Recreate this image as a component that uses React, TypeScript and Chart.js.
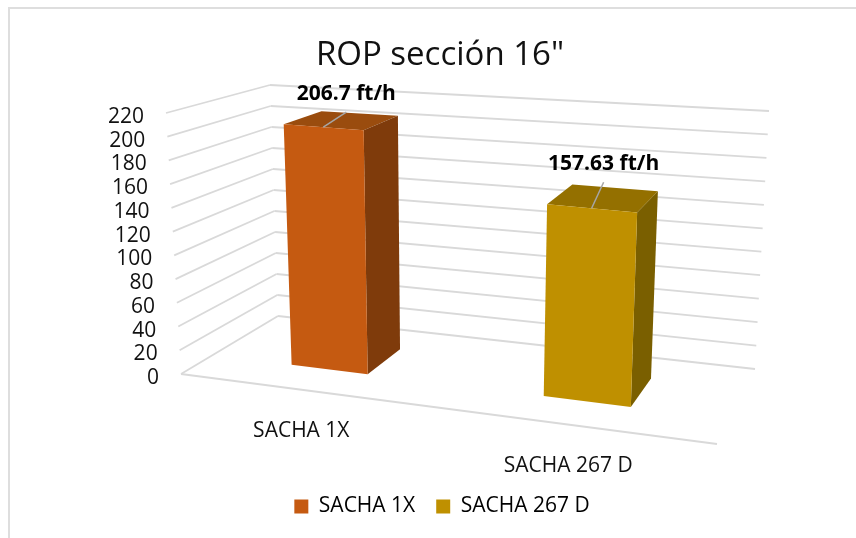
import React, { useEffect, useRef } from "react";
import { Chart, registerables } from "chart.js";

Chart.register(...registerables);

const titleText = 'ROP sección 16"';
const categories = ["SACHA 1X", "SACHA 267 D"];
const ropValues = [206.7, 157.63];
const valueLabels = ["206.7 ft/h", "157.63 ft/h"];
const faceColors = ["#C55A11", "#BF9000"];
const topColors = ["#9A4C0E", "#947000"];
const sideColors = ["#7F3B0B", "#7A5F00"];

const FONT = '"Open Sans", sans-serif';
const GRID = "#d9d9d9";
const INK = "#111111";

type P = [number, number];

// Floor of the 3D box on screen: front-left, front-right, back-right, back-left
const FLOOR: P[] = [[181, 374], [717, 444], [755, 369], [278, 316]];
// Full-height vector standing on each of those corners
const RISE: P[] = [[-15, -261], [13, -283], [14, -258], [-8, -231]];
const DEPTH_FRONT = 0.3;
const DEPTH_BACK = 0.7;
const LEADERS: P[] = [[23, -15], [12, -26]];
const LABEL_GAP = 18;
const LEGEND_SHIFT = 2;

function homography(q: P[]) {
  const [p0, p1, p2, p3] = q;
  const dx1 = p1[0] - p2[0], dx2 = p3[0] - p2[0], sx = p0[0] - p1[0] + p2[0] - p3[0];
  const dy1 = p1[1] - p2[1], dy2 = p3[1] - p2[1], sy = p0[1] - p1[1] + p2[1] - p3[1];
  const det = dx1 * dy2 - dx2 * dy1;
  const g = (sx * dy2 - dx2 * sy) / det;
  const h = (dx1 * sy - sx * dy1) / det;
  const a = p1[0] - p0[0] + g * p1[0], b = p3[0] - p0[0] + h * p3[0];
  const d = p1[1] - p0[1] + g * p1[1], e = p3[1] - p0[1] + h * p3[1];
  return (u: number, v: number): P => {
    const z = g * u + h * v + 1;
    return [(a * u + b * v + p0[0]) / z, (d * u + e * v + p0[1]) / z];
  };
}
const floorH = homography(FLOOR);
function project(u: number, v: number, w: number): P {
  const f = floorH(u, v);
  const rise = [0, 1].map(
    (k) =>
      (RISE[0][k] * (1 - u) + RISE[1][k] * u) * (1 - v) +
      (RISE[3][k] * (1 - u) + RISE[2][k] * u) * v
  );
  return [f[0] + rise[0] * w, f[1] + rise[1] * w];
}

function poly(ctx: CanvasRenderingContext2D, pts: P[], fill: string) {
  ctx.beginPath();
  pts.forEach((p, i) => (i ? ctx.lineTo(p[0], p[1]) : ctx.moveTo(p[0], p[1])));
  ctx.closePath();
  ctx.fillStyle = fill;
  ctx.fill();
}
function line(ctx: CanvasRenderingContext2D, a: P, b: P, color: string, width: number) {
  ctx.beginPath();
  ctx.moveTo(a[0], a[1]);
  ctx.lineTo(b[0], b[1]);
  ctx.strokeStyle = color;
  ctx.lineWidth = width;
  ctx.stroke();
}

const perspective = {
  id: "perspective",
  afterLayout(chart: any) {
    chart.legend.left += LEGEND_SHIFT;
    chart.legend.right += LEGEND_SHIFT;
  },
  beforeDatasetsDraw(chart: any) {
    const { ctx, scales } = chart;
    const yScale = scales.y;
    const h = yScale.bottom - yScale.top;
    ctx.save();
    // chart frame
    line(ctx, [9, 8], [9, 538], "#dedede", 2);
    line(ctx, [8, 8], [880, 8], "#dedede", 2);
    // walls
    yScale.ticks.forEach((t: any) => {
      const w = (yScale.bottom - yScale.getPixelForValue(t.value)) / h;
      line(ctx, project(0, 0, w), project(0, 1, w), GRID, 1.8);
      line(ctx, project(0, 1, w), project(1, 1, w), GRID, 1.8);
      const edge = project(0, 0, w);
      ctx.font = `21px ${FONT}`;
      ctx.fillStyle = INK;
      ctx.textAlign = "right";
      ctx.textBaseline = "middle";
      ctx.fillText(String(t.value), edge[0] - 22, edge[1] + 4);
    });
    line(ctx, project(0, 0, 0), project(1, 0, 0), GRID, 1.8);
    // category labels
    const xScale = scales.x;
    categories.forEach((c, i) => {
      const u = (xScale.getPixelForValue(i) - xScale.left) / (xScale.right - xScale.left);
      const p = project(u, 0, 0);
      ctx.font = `21px ${FONT}`;
      ctx.fillStyle = INK;
      ctx.textAlign = "center";
      ctx.textBaseline = "middle";
      ctx.fillText(c, p[0], p[1] + 41);
    });
    ctx.restore();
  },
  beforeDatasetDraw(chart: any) {
    const { ctx, scales } = chart;
    const xScale = scales.x, yScale = scales.y;
    const meta = chart.getDatasetMeta(0);
    ctx.save();
    meta.data.forEach((el: any, i: number) => {
      const span = xScale.right - xScale.left;
      const u0 = (el.x - el.width / 2 - xScale.left) / span;
      const u1 = (el.x + el.width / 2 - xScale.left) / span;
      const w = (yScale.bottom - el.y) / (yScale.bottom - yScale.top);
      const v0 = DEPTH_FRONT, v1 = DEPTH_BACK;
      poly(ctx, [project(u0, v0, w), project(u1, v0, w), project(u1, v1, w), project(u0, v1, w)], topColors[i]);
      poly(ctx, [project(u1, v0, 0), project(u1, v1, 0), project(u1, v1, w), project(u1, v0, w)], sideColors[i]);
      poly(ctx, [project(u0, v0, 0), project(u1, v0, 0), project(u1, v0, w), project(u0, v0, w)], faceColors[i]);
      // data label with its leader line
      const a = project((u0 + u1) / 2, v0, w);
      const b: P = [a[0] + LEADERS[i][0], a[1] + LEADERS[i][1]];
      line(ctx, a, b, "#a6a6a6", 1.5);
      ctx.font = `bold 21px ${FONT}`;
      ctx.fillStyle = "#000";
      ctx.textAlign = "center";
      ctx.textBaseline = "middle";
      ctx.fillText(valueLabels[i], b[0], b[1] - LABEL_GAP);
    });
    ctx.restore();
    return false;
  },
};

export default function App() {
  const ref = useRef<HTMLCanvasElement>(null);
  useEffect(() => {
    const chart = new Chart(ref.current!, {
      type: "bar",
      data: {
        labels: categories,
        datasets: [
          {
            label: "ROP",
            data: ropValues,
            backgroundColor: faceColors,
            barPercentage: 0.316,
            categoryPercentage: 1,
          },
        ],
      },
      options: {
        responsive: false,
        animation: false,
        layout: { padding: { bottom: 11 } },
        scales: {
          x: { display: false, offset: true },
          y: { display: false, min: 0, max: 220, ticks: { stepSize: 20 } },
        },
        plugins: {
          tooltip: { enabled: false },
          title: {
            display: true,
            text: titleText,
            color: INK,
            font: { family: FONT, size: 33, weight: "normal" },
            padding: { top: 36, bottom: 10 },
          },
          legend: {
            position: "bottom",
            labels: {
              boxWidth: 14,
              boxHeight: 14,
              color: INK,
              padding: 21,
              font: { family: FONT, size: 21 },
              generateLabels: () =>
                categories.map((c, i) => ({
                  text: c,
                  fillStyle: faceColors[i],
                  strokeStyle: faceColors[i],
                  lineWidth: 0,
                  index: i,
                  hidden: false,
                })),
            },
          },
        },
      },
      plugins: [perspective],
    } as any);
    return () => chart.destroy();
  }, []);
  return (
    <div style={{ position: "absolute", left: 0, top: 0, width: 856, height: 538, overflow: "hidden", background: "#fff" }}>
      <canvas ref={ref} width={880} height={538} style={{ display: "block" }} />
    </div>
  );
}
